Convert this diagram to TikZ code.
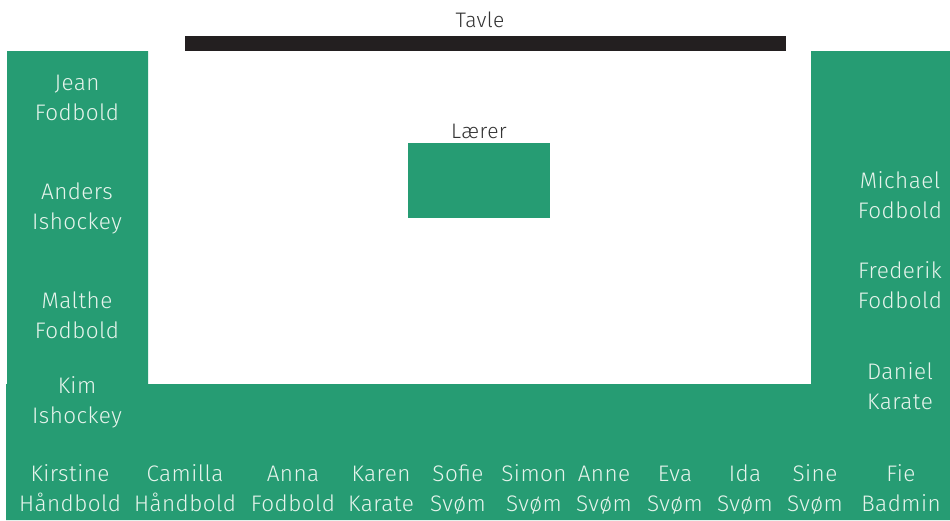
\documentclass[tikz,border=0pt]{standalone}
\usepackage{fontspec}
\setmainfont{Fira Sans Light}[LetterSpace=2]
\definecolor{seat}{HTML}{269C73}
\definecolor{board}{HTML}{231F20}
\definecolor{seattext}{HTML}{E6F4EC}
\definecolor{labeltext}{HTML}{333333}
\newcommand{\twolines}[2]{\strut #1\\\strut #2}
\begin{document}
\begin{tikzpicture}[x=1pt,y=-1pt,
  pupil/.style={text=seattext,align=center,font=\fontsize{22.5}{30}\selectfont,inner sep=0pt},
  lbl/.style={text=labeltext,font=\fontsize{21}{25}\selectfont,inner sep=0pt}]
\useasboundingbox (0,0) rectangle (950,520);
\fill[white] (0,0) rectangle (950,520);
% seating area
\fill[seat] (7,51) -- (148,51) -- (148,384) -- (811,384) -- (811,51) -- (950,51) -- (950,520) -- (6,520) -- (6,384) -- (7,384) -- cycle;
% board
\fill[board] (185,36) rectangle (786,51);
\node[lbl] (tavle) at (480,20) {Tavle};
% teacher
\fill[seat] (408,143) rectangle (550,218);
\node[lbl] (laerer) at (479,131) {Lærer};
% left column
\node[pupil] (jean) at (77,99) {\twolines{Jean}{Fodbold}};
\node[pupil] (anders) at (77,208) {\twolines{Anders}{Ishockey}};
\node[pupil] (malthe) at (77,317) {\twolines{Malthe}{Fodbold}};
\node[pupil] (kim) at (77,402) {\twolines{Kim}{Ishockey}};
% right column
\node[pupil] (michael) at (900,197) {\twolines{Michael}{Fodbold}};
\node[pupil] (frederik) at (900,287) {\twolines{Frederik}{Fodbold}};
\node[pupil] (daniel) at (900,388) {\twolines{Daniel}{Karate}};
% bottom row
\node[pupil] (kirstine) at (70,490) {\twolines{Kirstine}{Håndbold}};
\node[pupil] (camilla) at (185,490) {\twolines{Camilla}{Håndbold}};
\node[pupil] (anna) at (293,490) {\twolines{Anna}{Fodbold}};
\node[pupil] (karen) at (381,490) {\twolines{Karen}{Karate}};
\node[pupil] (sofie) at (458,490) {\twolines{Sofie}{Svøm}};
\node[pupil] (simon) at (534,490) {\twolines{Simon}{Svøm}};
\node[pupil] (anne) at (604,490) {\twolines{Anne}{Svøm}};
\node[pupil] (eva) at (675,490) {\twolines{Eva}{Svøm}};
\node[pupil] (ida) at (745,490) {\twolines{Ida}{Svøm}};
\node[pupil] (sine) at (815,490) {\twolines{Sine}{Svøm}};
\node[pupil] (fie) at (901,490) {\twolines{Fie}{Badmin}};
\end{tikzpicture}
\end{document}
